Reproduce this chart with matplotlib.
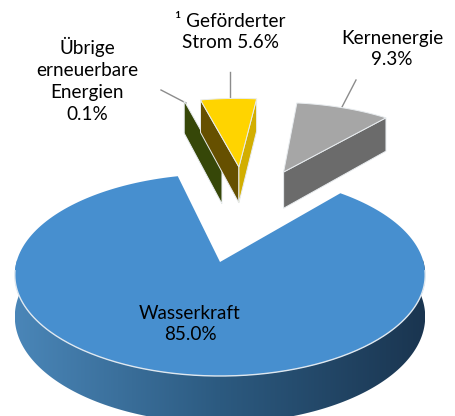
import numpy as np
import matplotlib
matplotlib.use("Agg")
import matplotlib.pyplot as plt
from matplotlib.patches import Polygon
from matplotlib.colors import LinearSegmentedColormap

# Data
categories = ["Wasserkraft", "Übrige\nerneuerbare\nEnergien", "¹ Geförderter\nStrom", "Kernenergie"]
values = [85.0, 0.1, 5.6, 9.3]
value_labels = ["85.0%", "0.1%", "5.6%", "9.3%"]

# Projection (tilted, slight perspective), in figure pixels
CX, CY, RX, RY, P, H = 220.0, 262.0, 203.5, 99.3, 0.129, 41.0
START = 40.5          # right edge of the first slice, clockwise from top
explode = [(0, 0), (0.011, 1.08), (0.106, 1.092), (0.354, 1.026)]


def project(X, Y, e):
    X = np.asarray(X) + e[0]
    Y = np.asarray(Y) + e[1]
    s = 1.0 / (1.0 + P * Y)
    return CX + RX * X * s, CY - RY * Y * s, s


def arc(t0, t1, e, n=200):
    t = np.radians(np.linspace(t0, t1, n))
    return project(np.sin(t), np.cos(t), e)


def top_poly(t0, t1, e):
    x, y, _ = arc(t0, t1, e)
    ax0, ay0, _ = project(0, 0, e)
    return np.column_stack([np.r_[ax0, x], np.r_[ay0, y]])


def cut_face(t, e):
    x, y, s = project(np.sin(np.radians(t)), np.cos(np.radians(t)), e)
    ax0, ay0, s0 = project(0, 0, e)
    return [(ax0, ay0), (x, y), (x, y + H * s), (ax0, ay0 + H * s0)]


def rim_poly(t0, t1, e):
    x, y, s = arc(t0, t1, e, 200)
    return np.column_stack([np.r_[x, x[::-1]], np.r_[y, (y + H * s)[::-1]]])


plt.rcParams["font.family"] = ["Lato", "DejaVu Sans"]
fig = plt.figure(figsize=(4.55, 4.16), dpi=100)
ax = fig.add_axes([0, 0, 1, 1])

# Slice angles from the values (clockwise from START)
spans = [v / sum(values) * 360 for v in values]
edges = START + np.cumsum([0] + spans)
EDGE = "#e8ecef"

# Blue slice: rim with horizontal gradient, then top
e = explode[0]
rim_cmap = LinearSegmentedColormap.from_list("rim", ["#4a86b8", "#2c5a80", "#1a3550"])
rim = Polygon(rim_poly(70, 290, e), closed=True, fc="none", ec="none", zorder=1)
ax.add_patch(rim)
grad = ax.imshow(np.linspace(0, 1, 256)[None, :], cmap=rim_cmap, extent=(15, 425, 430, 260),
                 aspect="auto", zorder=1, interpolation="bilinear")
grad.set_clip_path(rim)
ax.add_patch(Polygon(top_poly(edges[0], edges[1], e), closed=True, fc="#478fcf", ec="none", zorder=2))
xr, yr, _ = arc(95, 265, e)
ax.plot(xr, yr, color="#dfe8f0", lw=1.0, zorder=3)

# Remaining slices
e = explode[3]
t0, t1 = edges[3], edges[4]
ax.add_patch(Polygon(cut_face(t1, e), closed=True, fc="#6b6b6b", ec=EDGE, lw=0.7, zorder=4))
ax.add_patch(Polygon(top_poly(t0, t1, e), closed=True, fc="#a6a6a6", ec=EDGE, lw=0.7, zorder=5))

e = explode[1]
t0, t1 = edges[1], edges[2]
ax.add_patch(Polygon(cut_face(t0, e), closed=True, fc="#364708", ec=EDGE, lw=0.7, zorder=4))

e = explode[2]
t0, t1 = edges[2], edges[3]
ax.add_patch(Polygon(cut_face(t0, e), closed=True, fc="#665000", ec=EDGE, lw=0.7, zorder=4))
ax.add_patch(Polygon(cut_face(t1, e), closed=True, fc="#d2ae00", ec=EDGE, lw=0.7, zorder=4))
ax.add_patch(Polygon(top_poly(t0, t1, e), closed=True, fc="#ffd400", ec=EDGE, lw=0.7, zorder=5))

# Leader lines
LINE = "#8c8c8c"
ax.plot([342, 356], [107, 80], color=LINE, lw=1.0, zorder=3)
ax.plot([230, 230], [98, 72], color=LINE, lw=1.0, zorder=3)
ax.plot([186, 161], [103, 90], color=LINE, lw=1.0, zorder=3)

# Labels
FS = 13.6
kw = dict(ha="center", va="center", fontsize=FS, color="black", linespacing=1.34, zorder=6)
ax.text(190, 324, f"{categories[0]}\n{value_labels[0]}", **kw)
ax.text(87, 80, f"{categories[1]}\n{value_labels[1]}", **kw)
ax.text(230, 32, f"{categories[2]} {value_labels[2]}", **kw)
ax.text(392, 49, f"{categories[3]}\n{value_labels[3]}", **kw)

ax.set_xlim(0, 455)
ax.set_ylim(416, 0)
ax.axis("off")
fig.savefig("out.png", dpi=100)
